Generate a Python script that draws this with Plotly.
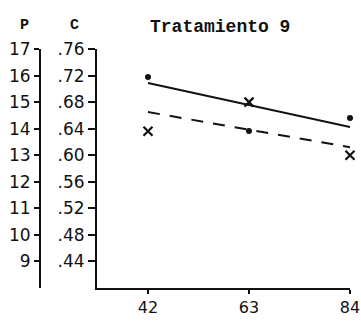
import plotly.graph_objects as go

# Days of sampling
dias = [42, 63, 84]

# P readings (left scale) and C readings (inner scale)
p_obs = [15.95, 13.91, 14.40]
c_obs = [0.636, 0.680, 0.600]

# Fitted trend lines (end points at 42 and 84 days)
fit_dias = [42, 84]
p_fit = [15.72, 14.06]
c_fit = [0.665, 0.612]

p_ticks = [9, 10, 11, 12, 13, 14, 15, 16, 17]
c_ticks = [0.44, 0.48, 0.52, 0.56, 0.60, 0.64, 0.68, 0.72, 0.76]
c_ticktext = [".44", ".48", ".52", ".56", ".60", ".64", ".68", ".72", ".76"]
x_ticks = [42, 63, 84]

W, H = 361, 325
ML, MR, MT, MB = 0, 11, 49, 37
PW = W - ML - MR
PH = H - MT - MB

def px_x(px):
    return (px - ML) / PW

def px_y(py):
    return 1 + (MT - py) / PH

ink = "#111111"
tick_font = dict(family="DejaVu Sans", size=17, color=ink)

fig = go.Figure()

fig.add_trace(go.Scatter(
    x=fit_dias, y=p_fit, mode="lines", yaxis="y2",
    line=dict(color=ink, width=2), showlegend=False, hoverinfo="skip",
))
fig.add_trace(go.Scatter(
    x=fit_dias, y=c_fit, mode="lines",
    line=dict(color=ink, width=2, dash="12px,10px"), showlegend=False, hoverinfo="skip",
))
fig.add_trace(go.Scatter(
    x=dias, y=p_obs, mode="markers", yaxis="y2", cliponaxis=False,
    marker=dict(symbol="circle", size=6, color=ink), showlegend=False,
))
fig.add_trace(go.Scatter(
    x=dias, y=c_obs, mode="markers", cliponaxis=False,
    marker=dict(symbol="x-thin", size=9, line=dict(width=2.2, color=ink)), showlegend=False,
))

fig.update_layout(
    width=W, height=H,
    margin=dict(l=ML, r=MR, t=MT, b=MB, autoexpand=False),
    paper_bgcolor="white", plot_bgcolor="white",
    xaxis=dict(
        domain=[px_x(97), 1], range=[31.4, 84],
        tickvals=x_ticks, ticktext=[str(v) for v in x_ticks],
        ticks="outside", ticklen=4, tickwidth=2, tickcolor=ink,
        ticklabeloverflow="allow", automargin=False,
        showline=True, linecolor=ink, linewidth=2,
        showgrid=False, zeroline=False,
        tickfont=dict(family="DejaVu Sans", size=16, color=ink),
    ),
    yaxis=dict(
        range=[0.40, 0.76], tickvals=c_ticks, ticktext=c_ticktext,
        ticks="outside", ticklen=7, tickwidth=2, tickcolor=ink,
        showline=True, linecolor=ink, linewidth=2, automargin=False,
        showgrid=False, zeroline=False, tickfont=tick_font,
    ),
    yaxis2=dict(
        range=[8, 17], tickvals=p_ticks, ticktext=[str(v) for v in p_ticks],
        overlaying="y", anchor="free", position=px_x(40), side="left",
        ticks="outside", ticklen=5, tickwidth=2, tickcolor=ink,
        showline=True, linecolor=ink, linewidth=2, automargin=False,
        showgrid=False, zeroline=False, tickfont=tick_font,
    ),
    annotations=[
        dict(text="<b>Tratamiento 9</b>", x=px_x(220), y=px_y(15), xref="paper", yref="paper",
             showarrow=False, font=dict(family="Liberation Mono", size=18, color=ink)),
        dict(text="<b>P</b>", x=px_x(18), y=px_y(15), xref="paper", yref="paper",
             showarrow=False, font=dict(family="Liberation Mono", size=15, color=ink)),
        dict(text="<b>C</b>", x=px_x(68), y=px_y(15), xref="paper", yref="paper",
             showarrow=False, font=dict(family="Liberation Mono", size=15, color=ink)),
    ],
)

fig.write_html("out.html")
